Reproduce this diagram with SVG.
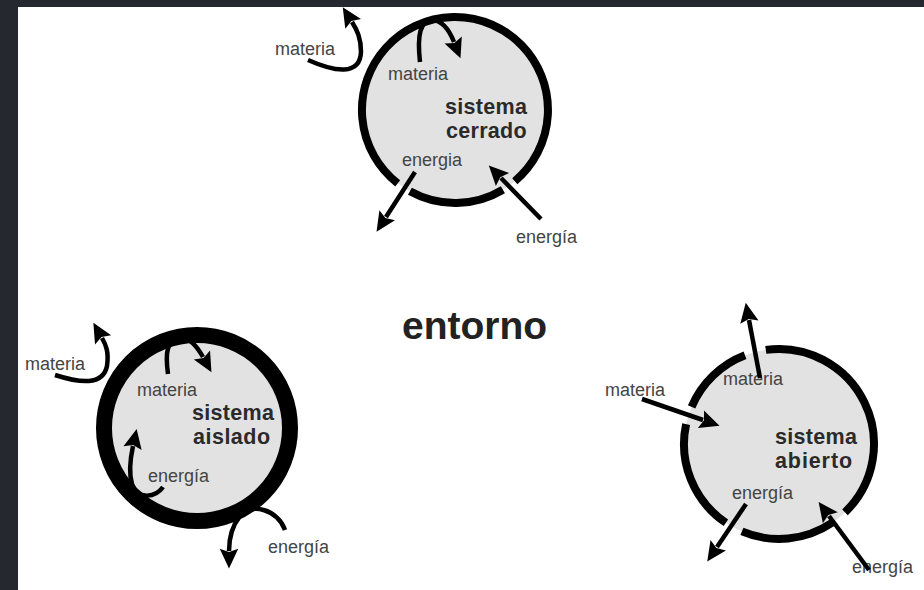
<svg xmlns="http://www.w3.org/2000/svg" width="924" height="590" viewBox="0 0 924 590">
<defs>
<style>
.bg{fill:#ffffff}
.frame{fill:#25282e}
.disk{fill:#e2e2e2;stroke:none}
.ring{fill:none;stroke:#000;stroke-width:8}
.ringThick{fill:none;stroke:#000;stroke-width:16}
.arr{fill:none;stroke:#000;stroke-width:4.5;marker-end:url(#head)}
.lbl{font-family:"Liberation Sans",Arial,sans-serif;font-size:18px;fill:#444}
.name{font-family:"Liberation Sans",Arial,sans-serif;font-size:21.5px;font-weight:bold;fill:#2a2a2a}
.title{font-family:"Liberation Sans",Arial,sans-serif;font-size:39px;font-weight:bold;fill:#222}
</style>
<marker id="head" markerUnits="userSpaceOnUse" markerWidth="24" markerHeight="24" viewBox="-2 -10 22 20" refX="2" refY="0" orient="auto">
<path d="M0,-8.5 L18,0 L0,8.5 L3,0 z" fill="#000"/>
</marker>
</defs>
<rect class="bg" x="0" y="0" width="924" height="590"/>

<g id="sistema-cerrado">
<circle class="disk" cx="455" cy="110" r="93"/>
<path class="ring" d="M397.7,183.3 A93,93 0 1 1 514.8,181.2"/>
<path class="ring" d="M502.9,189.7 A93,93 0 0 1 409.9,191.3"/>
<text class="lbl" x="275" y="55">materia</text>
<text class="lbl" x="388" y="80">materia</text>
<text class="name" x="445" y="114" letter-spacing="0.3">sistema</text>
<text class="name" x="446" y="138" letter-spacing="0.3">cerrado</text>
<text class="lbl" x="402" y="166">energia</text>
<text class="lbl" x="516" y="243">energía</text>
</g>

<g id="sistema-aislado">
<circle class="disk" cx="197" cy="428" r="93"/>
<circle class="ringThick" cx="197" cy="428" r="93"/>
<text class="lbl" x="25" y="370">materia</text>
<text class="lbl" x="137" y="396">materia</text>
<text class="name" x="192" y="420" letter-spacing="0.3">sistema</text>
<text class="name" x="193" y="444" letter-spacing="0.5">aislado</text>
<text class="lbl" x="148" y="482">energía</text>
<text class="lbl" x="268" y="553">energía</text>
</g>

<g id="sistema-abierto">
<circle class="disk" cx="779" cy="444" r="95"/>
<path class="ring" d="M765.8,349.9 A95,95 0 0 1 845.0,512.3"/>
<path class="ring" d="M832.1,522.8 A95,95 0 0 1 741.9,531.4"/>
<path class="ring" d="M725.9,522.8 A95,95 0 0 1 686.1,424.2"/>
<path class="ring" d="M691.6,406.9 A95,95 0 0 1 745.0,355.3"/>
<text class="lbl" x="605" y="396">materia</text>
<text class="lbl" x="723" y="385">materia</text>
<text class="name" x="775" y="444" letter-spacing="0.3">sistema</text>
<text class="name" x="775" y="468" letter-spacing="0.9">abierto</text>
<text class="lbl" x="732" y="499">energía</text>
<text class="lbl" x="852" y="573">energía</text>
</g>

<g id="entorno">
<text class="title" x="402" y="339">entorno</text>
</g>

<g id="connectors">
<!-- sistema cerrado -->
<path class="arr" d="M308,60 C335,72 360,76 361,52 C361,38 357,30 352,22"/>
<path class="arr" d="M420,62 C417,35 420,20 433,20 C443,21 450,32 454,42"/>
<path class="arr" d="M415,172 L386,217"/>
<path class="arr" d="M541,219 L501,178"/>
<!-- sistema aislado -->
<path class="arr" d="M55,375 C80,383 103,386 107,366 C109,352 106,345 102,338"/>
<path class="arr" d="M168,374 C165,352 167,340 180,338 C190,337 198,348 203,357"/>
<path class="arr" d="M163,487 C156,497 138,501 132,484 C129,474 130,460 133,446"/>
<path class="arr" d="M285,530 C278,510 252,502 240,516 C232,526 229,538 229,551"/>
<!-- sistema abierto -->
<path class="arr" d="M760,378 L749,320"/>
<path class="arr" d="M642,399 L703,420"/>
<path class="arr" d="M746,504 L717,547"/>
<path class="arr" d="M869,570 L829,516"/>
</g>

<g id="frame">
<rect class="frame" x="0" y="0" width="18" height="590"/>
<rect class="frame" x="0" y="0" width="924" height="7"/>
</g>
</svg>
